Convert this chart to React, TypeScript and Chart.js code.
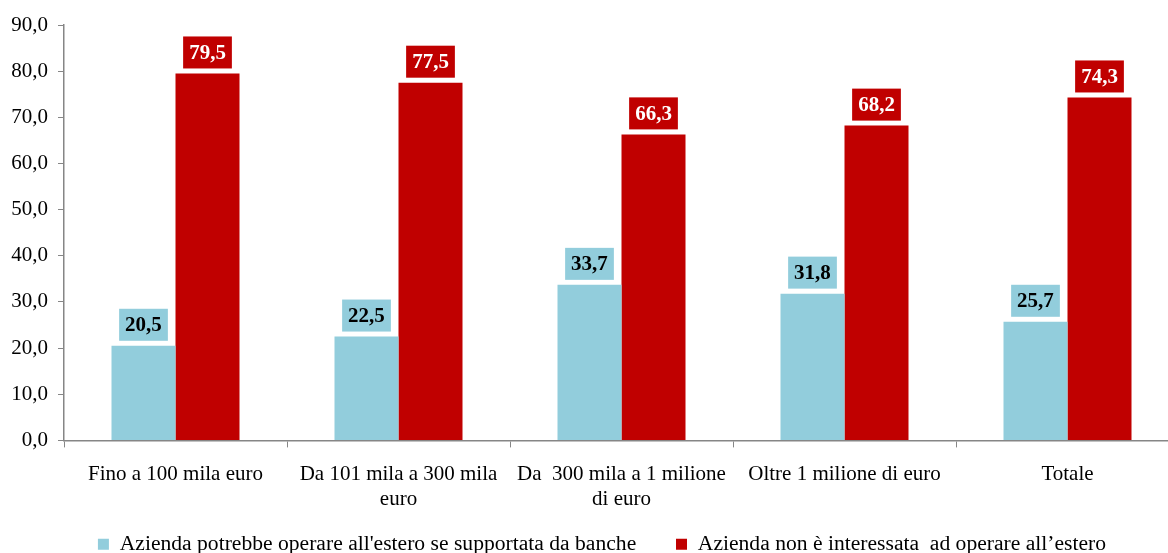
import React, { useEffect, useRef } from "react";
import { Chart, registerables } from "chart.js";

Chart.register(...registerables);

const categories: (string | string[])[] = [
  "Fino a 100 mila euro",
  ["Da 101 mila a 300 mila", "euro"],
  ["Da  300 mila a 1 milione", "di euro"],
  "Oltre 1 milione di euro",
  "Totale",
];
const seriesNames = [
  "Azienda potrebbe operare all'estero se supportata da banche",
  "Azienda non è interessata  ad operare all\u2019estero",
];
const supportedValues = [20.5, 22.5, 33.7, 31.8, 25.7];
const notInterestedValues = [79.5, 77.5, 66.3, 68.2, 74.3];
const yMin = 0;
const yMax = 90;
const yStep = 10;

const BLUE = "#92CDDC";
const RED = "#C00000";
const FONT = "'Liberation Serif', 'Times New Roman', serif";

const fmt = (v: number) => v.toFixed(1).replace(".", ",");

const valueLabelPlugin = {
  id: "valueLabels",
  afterDatasetsDraw(chart: any) {
    const ctx = chart.ctx;
    ctx.save();
    ctx.font = `bold 21px ${FONT}`;
    ctx.textAlign = "center";
    ctx.textBaseline = "middle";
    chart.data.datasets.forEach((ds: any, di: number) => {
      const meta = chart.getDatasetMeta(di);
      meta.data.forEach((el: any, i: number) => {
        const txt = fmt(ds.data[i]);
        const w = ctx.measureText(txt).width + 12;
        const h = 32;
        const x = el.x;
        const bottom = el.y - 5;
        ctx.fillStyle = ds.labelBg;
        ctx.fillRect(x - w / 2, bottom - h, w, h);
        ctx.fillStyle = ds.labelColor;
        ctx.fillText(txt, x, bottom - h / 2 + 1);
      });
    });
    ctx.restore();
  },
};

const legendShiftPlugin = {
  id: "legendShift",
  afterLayout(chart: any) {
    const lg = chart.legend;
    if (lg) {
      lg.left += 12.5;
      lg.right += 12.5;
    }
  },
};

export default function App() {
  const ref = useRef<HTMLCanvasElement>(null);
  useEffect(() => {
    if (!ref.current) return;
    const chart = new Chart(ref.current, {
      type: "bar",
      data: {
        labels: categories,
        datasets: [
          {
            label: seriesNames[0],
            data: supportedValues,
            backgroundColor: BLUE,
            borderWidth: 0,
            categoryPercentage: 0.574,
            barPercentage: 1,
            labelBg: BLUE,
            labelColor: "#000000",
          } as any,
          {
            label: seriesNames[1],
            data: notInterestedValues,
            backgroundColor: RED,
            borderWidth: 0,
            categoryPercentage: 0.574,
            barPercentage: 1,
            labelBg: RED,
            labelColor: "#FFFFFF",
          } as any,
        ],
      },
      options: {
        responsive: false,
        animation: false,
        devicePixelRatio: 1,
        layout: { padding: { top: 25, right: 3, left: 0, bottom: -12 } },
        plugins: {
          title: { display: false },
          tooltip: { enabled: false },
          legend: {
            position: "bottom",
            labels: {
              font: { family: FONT, size: 21.6 },
              color: "#000",
              boxWidth: 11,
              boxHeight: 11,
              padding: 2,
              generateLabels: (c: any) => {
                const items = Chart.defaults.plugins.legend.labels.generateLabels(c);
                items.forEach((it: any, idx: number) => {
                  if (idx === 0) it.text = it.text + "       ";
                  it.lineWidth = 0;
                });
                return items;
              },
            },
          },
        },
        scales: {
          x: {
            grid: {
              display: true,
              drawOnChartArea: false,
              offset: true,
              tickLength: 7,
              color: "#868686",
            },
            border: { color: "#868686", width: 1.5 },
            ticks: {
              font: { family: FONT, size: 21 },
              color: "#000",
              maxRotation: 0,
              autoSkip: false,
              padding: 14,
            },
            afterFit: (s: any) => {
              s.height = 91;
            },
          },
          y: {
            min: yMin,
            max: yMax,
            grid: {
              display: true,
              drawOnChartArea: false,
              tickLength: 6,
              color: "#868686",
            },
            border: { color: "#868686", width: 1.5 },
            ticks: {
              stepSize: yStep,
              font: { family: FONT, size: 21 },
              color: "#000",
              padding: 10,
              callback: (v: any) => fmt(Number(v)),
            },
            afterFit: (s: any) => {
              s.width = 64;
            },
          },
        },
      } as any,
      plugins: [valueLabelPlugin, legendShiftPlugin],
    });
    return () => chart.destroy();
  }, []);
  return (
    <div
      style={{
        position: "fixed",
        left: 0,
        top: 0,
        width: 1168,
        height: 553,
        overflow: "hidden",
        background: "#fff",
      }}
    >
      <canvas ref={ref} width={1182} height={553} style={{ width: 1182, height: 553 }} />
    </div>
  );
}
